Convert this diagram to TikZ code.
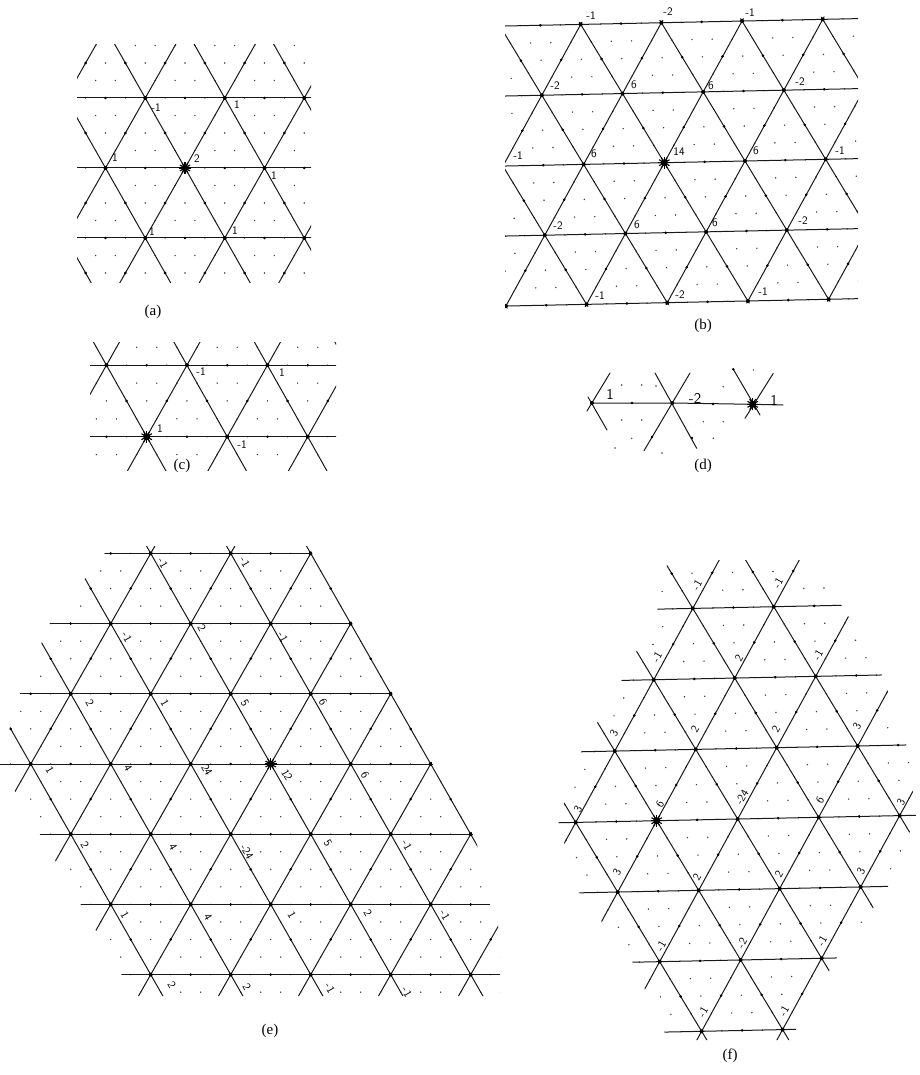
\documentclass[tikz,border=0pt]{standalone}
\usepackage{fontspec}
\setmainfont{Liberation Serif}
\tikzset{
  latline/.style={line width=1pt, black!90, line cap=round},
  finedot/.style={black!75},
  vert/.style={black},
  midmk/.style={black},
  lab/.style={font=\sffamily\fontsize{11.5}{11.5}\selectfont, inner sep=0pt},
  labe/.style={lab, rotate=-60},
  labf/.style={lab, rotate=60},
  labd/.style={font=\sffamily\fontsize{15}{15}\selectfont, inner sep=0pt},
  captxt/.style={font=\fontsize{15}{15}\selectfont, inner sep=0pt},
}
% #1 a, #2 h, #3 R, #4 C, #5 R+C, #6 4R, #7 4C
\newcommand\trilat[7]{%
  \foreach \n in {-#6,...,#6}{\foreach \m in {-#7,...,#7}{%
    \fill[finedot] ({\m*#1/4+mod(\n,2)*#1/8},{\n*#2/4}) circle (0.8);}}%
  \foreach \j in {-#3,...,#3}{\draw[latline] ({-#4*#1},{\j*#2}) -- ({#4*#1},{\j*#2});}%
  \foreach \i in {-#5,...,#5}{%
    \draw[latline] ({\i*#1+#3*#1/2},{-#3*#2}) -- ({\i*#1-#3*#1/2},{#3*#2});%
    \draw[latline] ({\i*#1-#3*#1/2},{-#3*#2}) -- ({\i*#1+#3*#1/2},{#3*#2});}%
  \foreach \j in {-#3,...,#3}{\foreach \i in {-#4,...,#4}{%
    \pgfmathsetmacro\vx{\i*#1+mod(\j,2)*#1/2}%
    \pgfmathsetmacro\vy{\j*#2}%
    \fill[vert] (\vx,\vy) circle (2);%
    \fill[midmk] ({\vx+#1/2},\vy) circle (1.4);%
    \fill[midmk] ({\vx+#1/4},{\vy+#2/2}) circle (1.4);%
    \fill[midmk] ({\vx-#1/4},{\vy+#2/2}) circle (1.4);}}%
}
\newcommand\starmk[1]{\fill #1 circle (3.5);%
  \foreach \ang in {0,30,...,150}{\draw[line width=1.1pt] #1 ++(\ang:6) -- ++(\ang+180:12);}}
\begin{document}
\begin{tikzpicture}[x=1pt,y=-1pt]
\fill[white] (0,0) rectangle (919,1075);
\useasboundingbox (0,0) rectangle (919,1075);

% ---------- (a)
\begin{scope}
  \clip (77,45) rectangle (311,282);
  \begin{scope}[shift={(185,168)}]
    \trilat{79.5}{70}{2}{2}{4}{8}{8}
  \end{scope}
\end{scope}
\coordinate (sa) at (185,168);
\starmk{(sa)}
\foreach \x/\y/\t [count=\c] in {156/108/-1, 237/105/1, 115/158/1, 197/159/2, 274/176/1, 152/232/1, 235/231/1}
  {\node[lab] (la\c) at (\x,\y) {\t};}
\node[captxt] (capa) at (153,312) {(a)};

% ---------- (b)
\begin{scope}
  \clip (505,23.5) -- (858,16) -- (858,301) -- (505,308.5) -- cycle;
  \begin{scope}[shift={(664.3,162.7)}, rotate=1.2]
    \trilat{80.7}{70}{3}{3}{6}{12}{12}
  \end{scope}
\end{scope}
\coordinate (sb) at (664.3,162.7);
\starmk{(sb)}
\foreach \x/\y/\t [count=\c] in {591/16/-1, 668/12/-2, 750/13/-1, 555/86/-2, 634/85/6, 711/86/6, 800/82/-2, 518/156/-1, 594/154/6, 679/152/14, 756/151/6, 840/151/-1, 558/226/-2, 637/225/6, 715/223/6, 803/221/-2, 600/296/-1, 680/295/-2, 763/292/-1}
  {\node[lab] (lb\c) at (\x,\y) {\t};}
\node[captxt] (capb) at (703,326) {(b)};

% ---------- (c)
\begin{scope}
  \clip (90,342) rectangle (336,470);
  \begin{scope}[shift={(146.7,436.7)}]
    \trilat{80.5}{71.5}{2}{3}{5}{8}{12}
  \end{scope}
\end{scope}
\coordinate (sc) at (146.7,436.7);
\starmk{(sc)}
\foreach \x/\y/\t [count=\c] in {201/372/-1, 282/373/1, 160/429/1, 242/445/-1}
  {\node[lab] (lc\c) at (\x,\y) {\t};}
\node[captxt] (capc) at (182,466) {(c)};

% ---------- (d)
\coordinate (d1) at (592,403);
\coordinate (d2) at (672.3,403);
\coordinate (d3) at (752.7,404.3);
\coordinate (d4) at (783,405);
\coordinate (d1a) at (610,373);   \coordinate (d1b) at (587,411);
\coordinate (d1c) at (588,397);   \coordinate (d1d) at (607,430);
\coordinate (d2a) at (655,373);   \coordinate (d2b) at (696.7,448.3);
\coordinate (d2c) at (690,373);   \coordinate (d2d) at (644,450.7);
\coordinate (d3a) at (733.3,369.3); \coordinate (d3b) at (760,415);
\coordinate (d3c) at (773.3,373.3); \coordinate (d3d) at (745,418.3);
\foreach \p in {(621.7,385),(641.7,385),(723.3,386.7),(753.3,370),(621.7,420),(641.7,420),(703.3,421.7),(723.3,421.7),(631.7,438.3),(713.3,438.3),(615,448),(662,453),(656,386)}
  {\fill[finedot] \p circle (0.8);}
\draw[latline] (d1) -- (d2) -- (d3) -- (d4);
\draw[latline] (d1a) -- (d1b);
\draw[latline] (d1c) -- (d1d);
\draw[latline] (d2a) -- (d2b);
\draw[latline] (d2c) -- (d2d);
\draw[latline] (d3a) -- (d3b);
\draw[latline] (d3c) -- (d3d);
\foreach \p in {(d1),(d2)} {\fill[vert] \p circle (2);}
\foreach \p in {(632,403),(713,404),(652,437),(692,438),(733.3,369.3)} {\fill[midmk] \p circle (1.4);}
\starmk{(d3)}
\foreach \x/\y/\t [count=\c] in {610/394/1, 695/398/-2, 774/400/1}
  {\node[labd] (ld\c) at (\x,\y) {\t};}
\node[captxt] (capd) at (703,466) {(d)};

% ---------- (e)
\begin{scope}
  \clip (105,546) -- (308,546) -- (476,840) -- (490,905) -- (500,930) -- (500,996)
        -- (134,996) -- (-1,764) -- (20,694) -- (50,623) -- (105,553) -- cycle;
  \begin{scope}[shift={(270.7,764)}]
    \trilat{80}{70.2}{4}{5}{9}{16}{20}
  \end{scope}
\end{scope}
\coordinate (se) at (270.7,764);
\starmk{(se)}
\foreach \x/\y/\t [count=\c] in {163/563/-1, 245/562/-1, 127/637/-1, 202/628/2, 283/637/-1,
   90/703/2, 165/703/1, 245/703/5, 323/702/6,
   50/770/1, 128/768/4, 207/770/24, 287/775/12, 365/775/6,
   85/845/2, 173/847/4, 247/852/-24, 328/843/5, 407/845/-1,
   125/915/1, 208/917/4, 292/915/1, 368/913/2, 445/915/-1,
   172/985/2, 247/987/2, 330/988/-1, 407/992/-1}
  {\node[labe] (le\c) at (\x,\y) {\t};}
\node[captxt] (cape) at (270,1031) {(e)};

% ---------- (f)
\begin{scope}
  \clip (668,560) -- (800,560) -- (843,607) -- (883,677) -- (907,747) -- (916,816)
        -- (887,889) -- (836,959) -- (790,1040) -- (668,1040) -- (632,961) -- (578,891)
        -- (558,821) -- (582,749) -- (623,678) -- (658,608) -- cycle;
  \begin{scope}[shift={(656.7,820.7)}, rotate=1.2]
    \trilat{81}{70.5}{4}{4}{8}{16}{16}
  \end{scope}
\end{scope}
\coordinate (sf) at (656.7,820.7);
\starmk{(sf)}
\foreach \x/\y/\t [count=\c] in {697/585/-1, 778/583/-1,
   657/657/-1, 739/658/2, 818/655/-1,
   614/733/3, 695/729/2, 776/729/2, 857/726/3,
   578/809/3, 660/804/6, 742/797/-24, 820/800/6, 901/802/3,
   617/872/3, 697/877/2, 779/874/2, 861/871/3,
   661/946/-1, 742/943/-2, 822/941/-1,
   703/1012/-1, 784/1011/-1}
  {\node[labf] (lf\c) at (\x,\y) {\t};}
\node[captxt] (capf) at (730,1056) {(f)};
\end{tikzpicture}
\end{document}
